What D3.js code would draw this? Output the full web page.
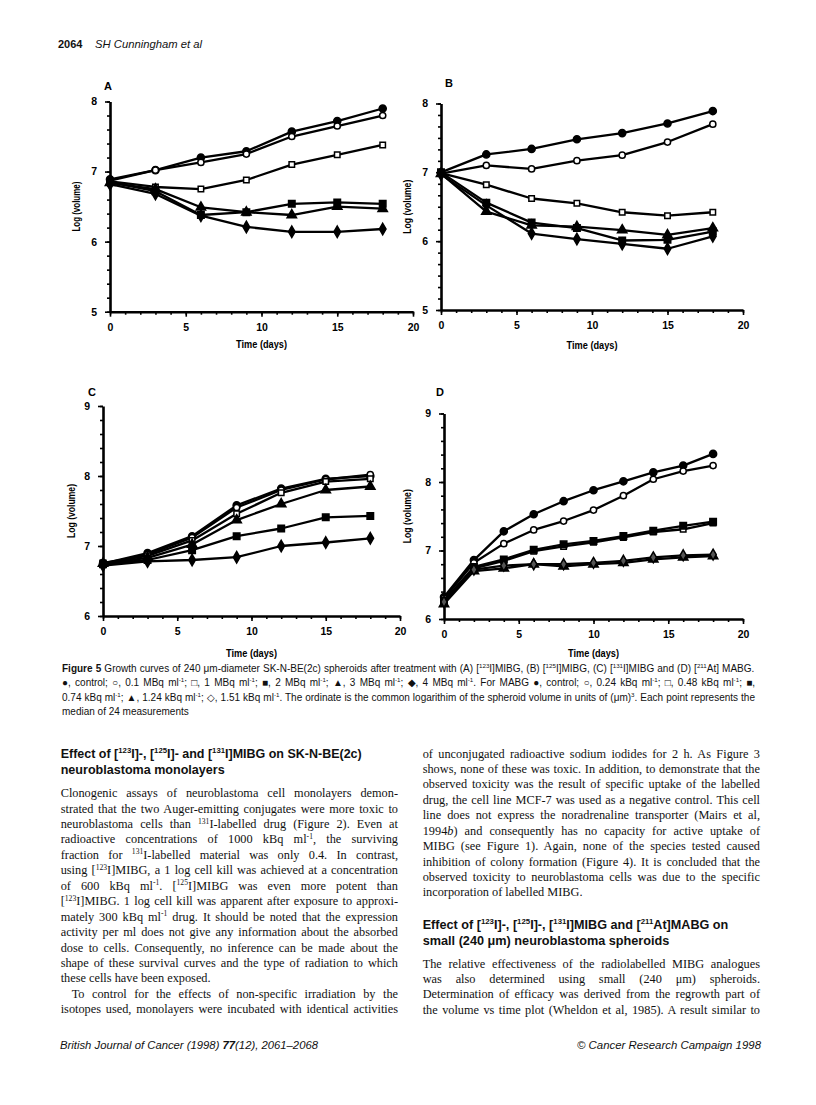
<!DOCTYPE html>
<html>
<head>
<meta charset="utf-8">
<script src="https://cdn.jsdelivr.net/npm/d3@7"></script>
<style>
  body { margin: 0; background: #fff; }
  svg { display: block; }
</style>
</head>
<body>
<script>
// sampling days
const daysMIBG = [0, 3, 6, 9, 12, 15, 18];
const daysMABG = [0, 2, 4, 6, 8, 10, 12, 14, 16, 18];

// treatment groups (see caption) and their plot symbols
const doseMIBG = ["control", "0.1 MBq/ml", "1 MBq/ml", "2 MBq/ml", "3 MBq/ml", "4 MBq/ml"];
const doseMABG = ["control", "0.24 kBq/ml", "0.48 kBq/ml", "0.74 kBq/ml", "1.24 kBq/ml", "1.51 kBq/ml"];
const symbolsMIBG = ["dot", "ring", "box", "block", "tri", "diamond"];
const symbolsMABG = ["dot", "ring", "box", "block", "tri", "openDiamond"];

// log(volume), one row per group
const logVolA = [
  [6.89, 7.02, 7.20, 7.29, 7.57, 7.72, 7.90],
  [6.87, 7.02, 7.13, 7.25, 7.50, 7.65, 7.80],
  [6.86, 6.78, 6.75, 6.88, 7.10, 7.24, 7.38],
  [6.85, 6.72, 6.38, 6.42, 6.54, 6.56, 6.54],
  [6.84, 6.75, 6.49, 6.42, 6.38, 6.50, 6.47],
  [6.82, 6.68, 6.37, 6.21, 6.14, 6.14, 6.18]
];
const logVolB = [
  [7.00, 7.26, 7.34, 7.48, 7.57, 7.71, 7.89],
  [6.98, 7.10, 7.05, 7.17, 7.25, 7.44, 7.70],
  [6.99, 6.82, 6.62, 6.55, 6.42, 6.37, 6.42],
  [7.00, 6.56, 6.27, 6.19, 6.01, 6.02, 6.14],
  [6.98, 6.43, 6.23, 6.21, 6.16, 6.09, 6.19],
  [6.97, 6.52, 6.11, 6.03, 5.96, 5.89, 6.07]
];
const logVolC = [
  [6.75, 6.90, 7.14, 7.58, 7.82, 7.96, 8.00],
  [6.74, 6.88, 7.12, 7.55, 7.80, 7.95, 8.02],
  [6.76, 6.86, 7.08, 7.46, 7.76, 7.92, 7.96],
  [6.74, 6.80, 6.94, 7.14, 7.25, 7.41, 7.43],
  [6.75, 6.83, 7.02, 7.37, 7.60, 7.80, 7.85],
  [6.72, 6.78, 6.80, 6.84, 7.00, 7.05, 7.11]
];
const logVolD = [
  [6.32, 6.86, 7.28, 7.53, 7.72, 7.88, 8.01, 8.14, 8.24, 8.41],
  [6.30, 6.82, 7.10, 7.30, 7.43, 7.59, 7.80, 8.04, 8.16, 8.24],
  [6.24, 6.74, 6.85, 6.99, 7.06, 7.12, 7.19, 7.27, 7.31, 7.40],
  [6.27, 6.76, 6.87, 7.01, 7.09, 7.14, 7.21, 7.29, 7.36, 7.42],
  [6.22, 6.70, 6.74, 6.80, 6.77, 6.80, 6.82, 6.87, 6.90, 6.92],
  [6.25, 6.72, 6.78, 6.80, 6.80, 6.82, 6.85, 6.90, 6.93, 6.94]
];

const xTicks = [0, 5, 10, 15, 20];

// page text.  ^{..} superscript, ~{..} italic, #{..} bold
const captionLines = [
  "#{Figure 5}   Growth curves of 240 μm-diameter SK-N-BE(2c) spheroids after treatment with (A) [^{123}I]MIBG, (B) [^{125}I]MIBG, (C) [^{131}I]MIBG and (D) [^{211}At] MABG.",
  "●, control; ○, 0.1 MBq ml^{-1}; □, 1 MBq ml^{-1}; ■, 2 MBq ml^{-1}; ▲, 3 MBq ml^{-1}; ◆, 4 MBq ml^{-1}. For MABG ●, control; ○, 0.24 kBq ml^{-1}; □, 0.48 kBq ml^{-1}; ■,",
  "0.74 kBq ml^{-1}; ▲, 1.24 kBq ml^{-1}; ◇, 1.51 kBq ml^{-1}. The ordinate is the common logarithim of the spheroid volume in units of (μm)^{3}. Each point represents the",
  "median of 24 measurements"
];
const leftHeading = [
  "Effect of [^{123}I]-, [^{125}I]- and [^{131}I]MIBG on SK-N-BE(2c)",
  "neuroblastoma monolayers"
];
const leftBody = [
  "Clonogenic assays of neuroblastoma cell monolayers demon-",
  "strated that the two Auger-emitting conjugates were more toxic to",
  "neuroblastoma cells than ^{131}I-labelled drug (Figure 2). Even at",
  "radioactive concentrations of 1000 kBq ml^{-1}, the surviving",
  "fraction for ^{131}I-labelled material was only 0.4. In contrast,",
  "using [^{123}I]MIBG, a 1 log cell kill was achieved at a concentration",
  "of 600 kBq ml^{-1}. [^{125}I]MIBG was even more potent than",
  "[^{123}I]MIBG. 1 log cell kill was apparent after exposure to approxi-",
  "mately 300 kBq ml^{-1} drug. It should be noted that the expression",
  "activity per ml does not give any information about the absorbed",
  "dose to cells. Consequently, no inference can be made about the",
  "shape of these survival curves and the type of radiation to which",
  "these cells have been exposed.",
  "To control for the effects of non-specific irradiation by the",
  "isotopes used, monolayers were incubated with identical activities"
];
const rightBody = [
  "of unconjugated radioactive sodium iodides for 2 h. As Figure 3",
  "shows, none of these was toxic. In addition, to demonstrate that the",
  "observed toxicity was the result of specific uptake of the labelled",
  "drug, the cell line MCF-7 was used as a negative control. This cell",
  "line does not express the noradrenaline transporter (Mairs et al,",
  "1994~{b}) and consequently has no capacity for active uptake of",
  "MIBG (see Figure 1). Again, none of the species tested caused",
  "inhibition of colony formation (Figure 4). It is concluded that the",
  "observed toxicity to neuroblastoma cells was due to the specific",
  "incorporation of labelled MIBG."
];
const rightHeading = [
  "Effect of [^{123}I]-, [^{125}I]-, [^{131}I]MIBG and [^{211}At]MABG on",
  "small (240 μm) neuroblastoma spheroids"
];
const rightBody2 = [
  "The relative effectiveness of the radiolabelled MIBG analogues",
  "was also determined using small (240 μm) spheroids.",
  "Determination of efficacy was derived from the regrowth part of",
  "the volume vs time plot (Wheldon et al, 1985). A result similar to"
];

const SANS = "'Liberation Sans', Arial, Helvetica, sans-serif";
const SERIF = "'Liberation Serif', 'Times New Roman', serif";

const svg = d3.select("body").append("svg")
  .attr("width", 816)
  .attr("height", 1105);

svg.append("rect").attr("width", 816).attr("height", 1105).attr("fill", "#fff");

// writes one line of marked-up text; fit = {width, how: "justify" | "squeeze"}
function richLine(parent, str, x, y, size, family, opts) {
  opts = opts || {};
  const t = parent.append("text")
    .attr("x", x).attr("y", y)
    .attr("font-family", family)
    .attr("font-size", size)
    .attr("font-weight", opts.weight || "normal")
    .attr("font-style", opts.style || "normal")
    .attr("fill", "#111");
  const re = /([\^~#])\{([^}]*)\}/g;
  const rise = size * 0.36;
  let last = 0, m, raised = false, plain = "";
  function add(s, kind) {
    const sp = t.append("tspan").text(s);
    plain += s;
    if (kind == "^") {
      sp.attr("font-size", size * 0.62).attr("dy", -rise);
      raised = true;
    } else {
      if (raised) { sp.attr("dy", rise); raised = false; }
      if (kind == "~") sp.attr("font-style", "italic");
      if (kind == "#") sp.attr("font-weight", "bold");
    }
  }
  while ((m = re.exec(str)) !== null) {
    if (m.index > last) add(str.slice(last, m.index), "");
    add(m[2], m[1]);
    last = re.lastIndex;
  }
  if (last < str.length) add(str.slice(last), "");

  if (opts.width) {
    const w = t.node().getComputedTextLength();
    if (opts.how == "squeeze") {
      t.attr("textLength", opts.width).attr("lengthAdjust", "spacingAndGlyphs");
    } else {
      const n = (plain.match(/ /g) || []).length;
      if (n) t.attr("word-spacing", (opts.width - w) / n);
    }
  }
  if (opts.anchor) t.attr("text-anchor", opts.anchor);
  return t;
}

// ---- running header / footer ----
richLine(svg, "2064", 58, 48, 11, SANS, {weight: "bold"});
richLine(svg, "SH Cunningham et al", 95, 48, 11, SANS, {style: "italic", width: 107, how: "squeeze"});
richLine(svg, "British Journal of Cancer (1998) #{77}(12), 2061–2068", 60, 1049, 10.5, SANS,
  {style: "italic", width: 258, how: "squeeze"});
richLine(svg, "© Cancer Research Campaign 1998", 577, 1049, 10.5, SANS,
  {style: "italic", width: 184, how: "squeeze"});

// ---- figure panels ----
const symbolShape = {
  dot:         {type: d3.symbolCircle,   size: 40, fill: "#000"},
  ring:        {type: d3.symbolCircle,   size: 30, fill: "#fff"},
  box:         {type: d3.symbolSquare,   size: 30, fill: "#fff"},
  block:       {type: d3.symbolSquare,   size: 42, fill: "#000"},
  tri:         {type: d3.symbolTriangle, size: 38, fill: "#000"},
  diamond:     {type: d3.symbolDiamond,  size: 38, fill: "#000"},
  openDiamond: {type: d3.symbolDiamond,  size: 34, fill: "#555"}
};

function drawPanel(cfg) {
  const g = svg.append("g").attr("class", "panel");
  const x = d3.scaleLinear().domain([0, 20]).range([cfg.left, cfg.right]);
  const y = d3.scaleLinear().domain(cfg.yDomain).range([cfg.bottom, cfg.top]);

  // minor ticks first so the axis line sits on top
  const yMinor = d3.range(cfg.yDomain[0], cfg.yDomain[1] + 1e-6, 1 / cfg.minorY);
  g.append("g")
    .attr("transform", "translate(" + cfg.left + ",0)")
    .call(d3.axisLeft(y).tickValues(yMinor).tickSize(3).tickFormat(""))
    .call(a => a.select(".domain").remove());
  g.append("g")
    .attr("transform", "translate(0," + cfg.bottom + ")")
    .call(d3.axisBottom(x).tickValues(d3.range(0, 21)).tickSize(3).tickFormat(""))
    .call(a => a.select(".domain").remove());

  const yMajor = d3.range(cfg.yDomain[0], cfg.yDomain[1] + 1);
  g.append("g")
    .attr("transform", "translate(" + cfg.left + ",0)")
    .call(d3.axisLeft(y).tickValues(yMajor).tickSize(5).tickSizeOuter(0).tickPadding(8).tickFormat(d3.format("d")));
  g.append("g")
    .attr("transform", "translate(0," + cfg.bottom + ")")
    .call(d3.axisBottom(x).tickValues(xTicks).tickSize(5).tickSizeOuter(0).tickPadding(7).tickFormat(d3.format("d")));

  g.selectAll(".tick line").attr("stroke", "#000").attr("stroke-width", 1.6);
  g.selectAll(".domain").attr("stroke", "#000").attr("stroke-width", 2.6);
  g.selectAll(".tick text")
    .attr("font-family", SANS)
    .attr("font-weight", "bold")
    .attr("font-size", 10.5)
    .attr("fill", "#000");

  // axis titles
  g.append("text")
    .attr("transform", "translate(" + cfg.yTitleX + "," + ((cfg.top + cfg.bottom) / 2) + ") rotate(-90)")
    .attr("text-anchor", "middle")
    .attr("font-family", SANS).attr("font-weight", "bold").attr("font-size", 10)
    .attr("textLength", cfg.yTitleLen).attr("lengthAdjust", "spacingAndGlyphs")
    .text("Log (volume)");
  g.append("text")
    .attr("x", (cfg.left + cfg.right) / 2)
    .attr("y", cfg.xTitleY)
    .attr("text-anchor", "middle")
    .attr("font-family", SANS).attr("font-weight", "bold").attr("font-size", 10)
    .attr("textLength", 51).attr("lengthAdjust", "spacingAndGlyphs")
    .text("Time (days)");
  g.append("text")
    .attr("x", cfg.labelX).attr("y", cfg.labelY)
    .attr("font-family", SANS).attr("font-weight", "bold").attr("font-size", 11)
    .text(cfg.label);

  const line = d3.line()
    .x((d, i) => x(cfg.days[i]))
    .y(d => y(d));

  cfg.values.forEach(row => {
    g.append("path")
      .datum(row)
      .attr("d", line)
      .attr("fill", "none")
      .attr("stroke", "#000")
      .attr("stroke-width", 2.3)
      .attr("stroke-linejoin", "round");
  });
  cfg.values.forEach((row, k) => {
    const s = symbolShape[cfg.symbols[k]];
    g.selectAll(null)
      .data(row)
      .enter()
      .append("path")
      .attr("transform", (d, i) => "translate(" + x(cfg.days[i]) + "," + y(d) + ")")
      .attr("d", d3.symbol().type(s.type).size(s.size))
      .attr("fill", s.fill)
      .attr("stroke", "#000")
      .attr("stroke-width", 1.5);
  });
}

drawPanel({label: "A", labelX: 104, labelY: 90, left: 110, right: 413, top: 101.5, bottom: 311.7,
  yDomain: [5, 8], minorY: 5, days: daysMIBG, values: logVolA, symbols: symbolsMIBG,
  yTitleX: 80, yTitleLen: 50, xTitleY: 348});
drawPanel({label: "B", labelX: 445, labelY: 87, left: 441, right: 743, top: 103.5, bottom: 310,
  yDomain: [5, 8], minorY: 6, days: daysMIBG, values: logVolB, symbols: symbolsMIBG,
  yTitleX: 411, yTitleLen: 54, xTitleY: 349});
drawPanel({label: "C", labelX: 88, labelY: 396, left: 103, right: 400, top: 406, bottom: 616,
  yDomain: [6, 9], minorY: 5, days: daysMIBG, values: logVolC, symbols: symbolsMIBG,
  yTitleX: 75, yTitleLen: 54, xTitleY: 657});
drawPanel({label: "D", labelX: 436, labelY: 396, left: 444, right: 743, top: 413.5, bottom: 619,
  yDomain: [6, 9], minorY: 5, days: daysMABG, values: logVolD, symbols: symbolsMABG,
  yTitleX: 411, yTitleLen: 54, xTitleY: 657});

// ---- caption ----
const capY = [671.5, 686, 700.5, 714.5];
captionLines.forEach((s, i) => {
  richLine(svg, s, 62, capY[i], 10, SANS, i < 3 ? {width: 693} : {});
});

// ---- left column ----
const colL = 60.7, colR = 422.7, colW = 337.3;
leftHeading.forEach((s, i) => {
  richLine(svg, s, colL, 757.5 + i * 16, 12, SANS,
    {weight: "bold", width: i == 0 ? 301 : 164, how: "squeeze"});
});
leftBody.forEach((s, i) => {
  const yy = 797.2 + i * 15.43;
  const last = i == 12;
  const indent = i == 13 ? 11 : 0;
  richLine(svg, s, colL + indent, yy, 12.3, SERIF, last ? {} : {width: colW - indent});
});

// ---- right column ----
rightBody.forEach((s, i) => {
  richLine(svg, s, colR, 757.5 + i * 15.43, 12.3, SERIF, i == rightBody.length - 1 ? {} : {width: colW});
});
rightHeading.forEach((s, i) => {
  richLine(svg, s, colR, 928.5 + i * 16, 12, SANS,
    {weight: "bold", width: i == 0 ? 305.6 : 246.7, how: "squeeze"});
});
rightBody2.forEach((s, i) => {
  richLine(svg, s, colR, 967.5 + i * 15.4, 12.3, SERIF, {width: colW});
});
</script>
</body>
</html>
